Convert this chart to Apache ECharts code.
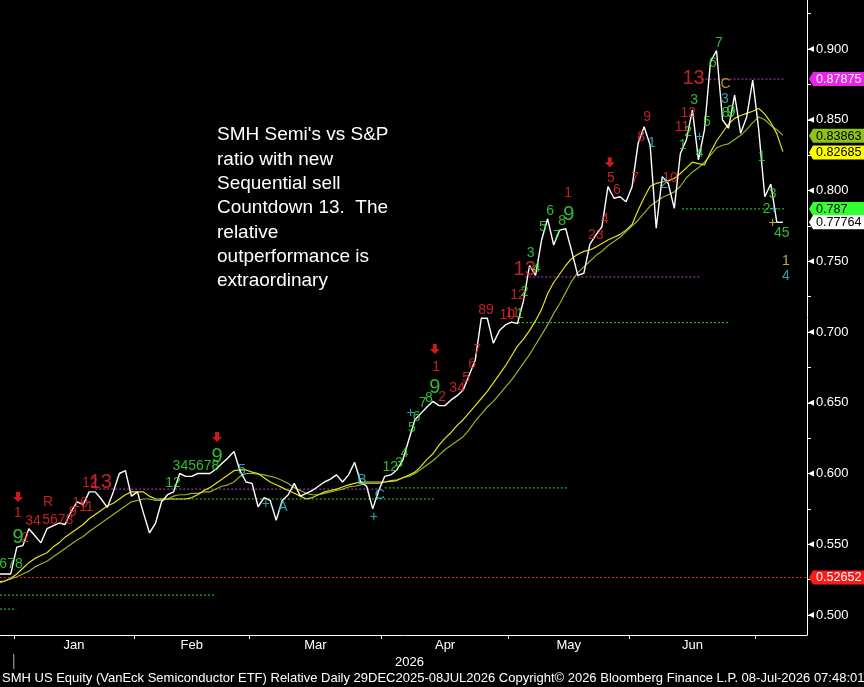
<!DOCTYPE html>
<html>
<head>
<meta charset="utf-8">
<script src="https://cdn.jsdelivr.net/npm/echarts/dist/echarts.min.js"></script>
<style>
  html, body { margin: 0; padding: 0; background: #000; }
  #chart { width: 864px; height: 687px; }
</style>
</head>
<body>
<div id="chart"></div>
<script>
// daily ratio, 29-Dec-2025 .. 08-Jul-2026 (trading days, index 0..130)
const price = [
  0.529, 0.529, 0.529, 0.548, 0.549, 0.561, 0.556, 0.551, 0.561, 0.563,
  0.565, 0.564, 0.573, 0.580, 0.578, 0.587, 0.587, 0.582, 0.576, 0.587,
  0.600, 0.602, 0.584, 0.587, 0.572, 0.558, 0.565, 0.580, 0.585, 0.587,
  0.600, 0.598, 0.598, 0.600, 0.600, 0.600, 0.603, 0.607, 0.611, 0.6155,
  0.602, 0.594, 0.593, 0.5765, 0.583, 0.581, 0.567, 0.581, 0.585, 0.593,
  0.584, 0.586, 0.588, 0.591, 0.594, 0.596, 0.599, 0.594, 0.599, 0.608,
  0.594, 0.591, 0.575, 0.588, 0.598, 0.599, 0.6025, 0.6095, 0.624, 0.638,
  0.6425, 0.647, 0.651, 0.648, 0.648, 0.652, 0.655, 0.659, 0.6696, 0.680,
  0.7097, 0.7097, 0.692, 0.701, 0.705, 0.707, 0.706, 0.722, 0.747, 0.740,
  0.765, 0.780, 0.7615, 0.772, 0.773, 0.757, 0.740, 0.7415, 0.762, 0.7686,
  0.7744, 0.8027, 0.7945, 0.7956, 0.792, 0.8027, 0.8333, 0.845, 0.832, 0.7733,
  0.8098, 0.805, 0.7874, 0.826, 0.8357, 0.857, 0.8216, 0.8428, 0.891, 0.8988,
  0.8498, 0.844, 0.8675, 0.8404, 0.852, 0.878, 0.8428, 0.7956, 0.8046, 0.7775,
  0.7776
];

// yellow moving average
const maFast = [
  0.5235, 0.524, 0.526, 0.529, 0.533, 0.537, 0.540, 0.542, 0.544, 0.548,
  0.551, 0.555, 0.558, 0.561, 0.564, 0.568, 0.571, 0.574, 0.577, 0.579,
  0.582, 0.585, 0.587, 0.587, 0.587, 0.584, 0.582, 0.582, 0.582, 0.582,
  0.582, 0.582, 0.583, 0.585, 0.588, 0.590, 0.593, 0.596, 0.599, 0.602,
  0.6025, 0.6025, 0.601, 0.600, 0.597, 0.594, 0.592, 0.590, 0.588, 0.586,
  0.584, 0.582, 0.583, 0.585, 0.587, 0.588, 0.589, 0.5905, 0.592, 0.593,
  0.594, 0.594, 0.594, 0.594, 0.594, 0.5945, 0.595, 0.597, 0.599, 0.601,
  0.605, 0.610, 0.614, 0.620, 0.625, 0.629, 0.634, 0.638, 0.643, 0.648,
  0.653, 0.658, 0.664, 0.670, 0.676, 0.683, 0.690, 0.695, 0.701, 0.708,
  0.716, 0.727, 0.735, 0.741, 0.747, 0.752, 0.755, 0.757, 0.758, 0.760,
  0.7625, 0.765, 0.767, 0.769, 0.772, 0.776, 0.786, 0.795, 0.803, 0.805,
  0.806, 0.807, 0.8085, 0.812, 0.816, 0.820, 0.819, 0.818, 0.827, 0.835,
  0.841, 0.847, 0.851, 0.853, 0.8545, 0.856, 0.858, 0.854, 0.848, 0.840,
  0.8275
];

// olive moving average
const maSlow = [
  0.5224, 0.524, 0.5255, 0.527, 0.529, 0.531, 0.534, 0.536, 0.538, 0.541,
  0.544, 0.547, 0.550, 0.553, 0.5555, 0.559, 0.562, 0.565, 0.568, 0.571,
  0.574, 0.577, 0.580, 0.581, 0.582, 0.582, 0.581, 0.581, 0.582, 0.584,
  0.585, 0.585, 0.586, 0.586, 0.587, 0.587, 0.589, 0.591, 0.592, 0.594,
  0.598, 0.600, 0.600, 0.5995, 0.599, 0.598, 0.597, 0.595, 0.593, 0.590,
  0.588, 0.586, 0.585, 0.585, 0.586, 0.587, 0.588, 0.589, 0.5905, 0.591,
  0.592, 0.593, 0.593, 0.593, 0.594, 0.595, 0.5955, 0.597, 0.598, 0.600,
  0.603, 0.606, 0.609, 0.613, 0.617, 0.620, 0.623, 0.626, 0.631, 0.637,
  0.642, 0.647, 0.651, 0.656, 0.661, 0.666, 0.672, 0.678, 0.684, 0.691,
  0.698, 0.705, 0.713, 0.720, 0.728, 0.736, 0.742, 0.746, 0.750, 0.754,
  0.757, 0.761, 0.764, 0.767, 0.771, 0.775, 0.779, 0.784, 0.789, 0.792,
  0.795, 0.797, 0.799, 0.803, 0.809, 0.813, 0.816, 0.820, 0.825, 0.830,
  0.832, 0.833, 0.836, 0.839, 0.843, 0.848, 0.852, 0.850, 0.846, 0.843,
  0.839
];

// x axis: month boundaries and month label positions (in trading-day index)
const monthTicks = [2.5, 22.5, 41.5, 63.5, 84.5, 104.5, 125.5];
const monthLabelPos = [12.5, 32, 52.5, 74, 94.5, 115];
const monthNames = ['Jan', 'Feb', 'Mar', 'Apr', 'May', 'Jun'];

// y axis
const yTicks = [0.5, 0.525, 0.55, 0.575, 0.6, 0.625, 0.65, 0.675, 0.7, 0.725,
                0.75, 0.775, 0.8, 0.825, 0.85, 0.875, 0.9, 0.925];
const yLabels = [0.5, 0.55, 0.6, 0.65, 0.7, 0.75, 0.8, 0.85, 0.9];

// TD sequential counts: [day index, level, text, font size]
const redCounts = [
  [3.2, 0.572, '1'], [4.4, 0.554, '2'], [5.7, 0.566, '34'], [8.2, 0.580, 'R'],
  [9.8, 0.567, '5678'], [12.3, 0.573, '9'], [13.5, 0.579, '10'], [14.5, 0.576, '11'],
  [15.1, 0.593, '12'], [16.9, 0.594, '13', 20],
  [72.5, 0.675, '1'], [73.5, 0.654, '2'], [76, 0.660, '34'], [77.5, 0.6675, '5'],
  [78.5, 0.677, '6'], [79.3, 0.687, '7'], [80.8, 0.7155, '89'], [84.3, 0.712, '10'],
  [85.2, 0.7134, '11'], [86.1, 0.726, '12'], [87.2, 0.744, '13', 20],
  [94.4, 0.798, '1'], [99, 0.7686, '23'], [100.5, 0.780, '4'], [101.5, 0.809, '5'],
  [102.5, 0.800, '6'], [105.5, 0.809, '7'], [106.5, 0.838, '8'], [107.5, 0.852, '9'],
  [111.3, 0.809, '10'], [113.3, 0.845, '11'], [114.3, 0.855, '12'], [115.2, 0.879, '13', 20]
];
const greenCounts = [
  [1.4, 0.536, '5678'], [3.2, 0.555, '9', 20], [28.9, 0.593, '12'], [32.7, 0.605, '345678'],
  [36.2, 0.612, '9', 20],
  [64.9, 0.6046, '12'], [66.4, 0.607, '3'], [67.3, 0.6145, '4'], [68.5, 0.632, '5'],
  [69.3, 0.640, '6'], [70.3, 0.650, '7'], [71.3, 0.653, '8'], [72.3, 0.661, '9', 20],
  [86.4, 0.7127, '1'], [87.2, 0.728, '2'], [88.2, 0.756, '3'], [89.2, 0.745, '4'],
  [90.2, 0.774, '5'], [91.4, 0.7855, '6'], [92.5, 0.768, '7'], [93.4, 0.778, '8'],
  [94.5, 0.783, '9', 20],
  [113.4, 0.832, '1'], [114.3, 0.841, '2'], [115.3, 0.864, '3'], [116.2, 0.8265, '4'],
  [117.4, 0.848, '5'], [118.4, 0.890, '6'], [119.4, 0.904, '7'], [120.5, 0.855, '8'],
  [121.4, 0.855, '9', 17],
  [126.5, 0.8237, '1'], [127.3, 0.787, '2'], [128.3, 0.7975, '3'], [129.8, 0.770, '45']
];
const cyanMarks = [
  [40.3, 0.6025, '5'], [44.3, 0.5784, '+'], [47.1, 0.5763, 'A'], [60.2, 0.5954, 'B'],
  [63.2, 0.5848, 'C'], [62.2, 0.5693, '+'], [68.3, 0.6428, '+'], [108.3, 0.8336, '1'],
  [110.3, 0.8046, '2'], [116.2, 0.8378, '+'], [120.4, 0.8647, '3'], [128.5, 0.787, '+'],
  [130.5, 0.7396, '4']
];
const yellowMarks = [[128.3, 0.777, '+'], [130.5, 0.750, '1']];
const orangeMarks = [[120.5, 0.8753, 'C']];
const sellArrows = [[3.2, 0.5834], [36.2, 0.6258], [72.3, 0.688], [101.3, 0.820]];

// dotted levels: [from index, to index, level, colour]
const levels = [
  [0.2, 134, 0.52652, '#e02020'],
  [0.2, 2.9, 0.5042, '#33dd33'],
  [0.2, 36, 0.5141, '#33dd33'],
  [26.7, 72.3, 0.582, '#33dd33'],
  [16, 63.5, 0.589, '#c040c0'],
  [64, 94.4, 0.5898, '#33dd33'],
  [86.1, 121.2, 0.7066, '#33dd33'],
  [87.3, 116.2, 0.7389, '#c040c0'],
  [113.3, 130.3, 0.787, '#33dd33'],
  [116.5, 130.2, 0.87875, '#c040c0']
];

// price tags on the right axis
const tagValues = [0.87875, 0.83863, 0.82685, 0.787, 0.77764, 0.52652];
const tagFill = ['#ee22ee', '#8dc21f', '#ffff00', '#33ff33', '#ffffff', '#ff1a1a'];
const tagText = ['#ffffff', '#000000', '#000000', '#000000', '#000000', '#ffffff'];

const noteLines = ["SMH Semi's vs S&P", 'ratio with new', 'Sequential sell',
  'Countdown 13.  The', 'relative', 'outperformance is', 'extraordinary'];
const footer = 'SMH US Equity (VanEck Semiconductor ETF) Relative Daily 29DEC2025-08JUL2026 Copyright\u00a9 2026 Bloomberg Finance L.P. 08-Jul-2026 07:48:01';

const chart = echarts.init(document.getElementById('chart'));
const axisFont = 'Liberation Sans';
const countFont = 'Liberation Sans';

function textSeries(items, color, size) {
  return {
    type: 'scatter', symbolSize: 1, silent: true, z: 6,
    itemStyle: { color: 'rgba(0,0,0,0)' },
    label: { show: true, position: 'inside', color: color, fontFamily: countFont, fontSize: size },
    data: items.map(d => ({ value: [d[0], d[1]], label: { formatter: d[2], fontSize: d[3] || size } }))
  };
}

function lineSeries(values, color, width, z) {
  return {
    type: 'line', showSymbol: false, silent: true, z: z,
    lineStyle: { color: color, width: width },
    data: values.map((v, i) => [i, v])
  };
}

const series = [
  lineSeries(maSlow, '#8fb52a', 1.2, 2),
  lineSeries(maFast, '#e6e022', 1.2, 3),
  lineSeries(price, '#ffffff', 1.4, 4)
];
levels.forEach(l => {
  series.push({
    type: 'line', showSymbol: false, silent: true, z: 1,
    lineStyle: { color: l[3], width: 1, type: [2, 2] },
    data: [[l[0], l[2]], [l[1], l[2]]]
  });
});
series.push(textSeries(redCounts, '#f22a2a', 14));
series.push(textSeries(greenCounts, '#3ee63e', 14));
series.push(textSeries(cyanMarks, '#3cc8dc', 14));
series.push(textSeries(yellowMarks, '#e8d84a', 14));
series.push(textSeries(orangeMarks, '#e8b020', 14));
series.push({
  type: 'scatter', silent: true, z: 6,
  symbol: 'path://M3,0 L7,0 L7,5 L10,5 L5,10 L0,5 L3,5 Z',
  symbolSize: [10, 10],
  itemStyle: { color: '#ff2020' },
  data: sellArrows
});

chart.setOption({
  backgroundColor: '#000000',
  animation: false,
  grid: { left: 0, right: 57, top: 0, bottom: 52 },
  xAxis: {
    type: 'value', min: 0.215, max: 134,
    axisLine: { lineStyle: { color: '#ffffff', width: 1 } },
    axisTick: { customValues: monthTicks, length: 4, lineStyle: { color: '#ffffff' } },
    axisLabel: {
      customValues: monthLabelPos, color: '#ffffff', fontFamily: axisFont, fontSize: 13, margin: 4,
      formatter: v => monthNames[monthLabelPos.indexOf(v)] || ''
    },
    splitLine: { show: false }
  },
  yAxis: {
    type: 'value', position: 'right', min: 0.48587, max: 0.93463,
    axisLine: { show: true, lineStyle: { color: '#ffffff', width: 1 } },
    axisTick: { customValues: yTicks, length: 4, lineStyle: { color: '#ffffff' } },
    axisLabel: {
      customValues: yLabels, color: '#ffffff', fontFamily: axisFont, fontSize: 13, margin: 9,
      formatter: v => v.toFixed(3)
    },
    splitLine: { show: false }
  },
  series: series
});

// overlays placed through the axes
const gridRight = chart.convertToPixel({ xAxisIndex: 0 }, 134);
const graphics = [];
yLabels.forEach(v => {
  const y = chart.convertToPixel({ yAxisIndex: 0 }, v);
  graphics.push({
    type: 'polygon', z: 40,
    shape: { points: [[gridRight + 1, y], [gridRight + 7, y - 3], [gridRight + 7, y + 3]] },
    style: { fill: '#ffffff' }
  });
});
tagValues.forEach((v, k) => {
  const y = chart.convertToPixel({ yAxisIndex: 0 }, v);
  graphics.push({
    type: 'polygon', z: 50,
    shape: { points: [[gridRight + 2, y], [gridRight + 6, y - 7], [864, y - 7], [864, y + 7], [gridRight + 6, y + 7]] },
    style: { fill: tagFill[k] }
  });
  graphics.push({
    type: 'text', z: 51, x: gridRight + 9, y: y + 0.5,
    style: { text: k === 3 ? v.toFixed(3) : v.toFixed(5), fill: tagText[k], font: '12.6px ' + axisFont, verticalAlign: 'middle' }
  });
});
const yearX = chart.convertToPixel({ xAxisIndex: 0 }, monthTicks[0]);
graphics.push({
  type: 'line', z: 50,
  shape: { x1: yearX, y1: 654, x2: yearX, y2: 669 },
  style: { stroke: '#bbbbbb', lineWidth: 1 }
});
graphics.push({
  type: 'text', z: 50, x: gridRight / 2 + 6, y: 662,
  style: { text: '2026', fill: '#ffffff', font: '13px ' + axisFont, align: 'center', verticalAlign: 'middle' }
});
graphics.push({
  type: 'text', z: 50, x: 2, y: 678,
  style: { text: footer, fill: '#ffffff', font: '13px ' + axisFont, verticalAlign: 'middle' }
});
graphics.push({
  type: 'text', z: 50, x: 217, y: 123,
  style: { text: noteLines.join('\n'), fill: '#ffffff', font: '19px Liberation Sans', lineHeight: 24.3 }
});
chart.setOption({ graphic: graphics });
</script>
</body>
</html>
